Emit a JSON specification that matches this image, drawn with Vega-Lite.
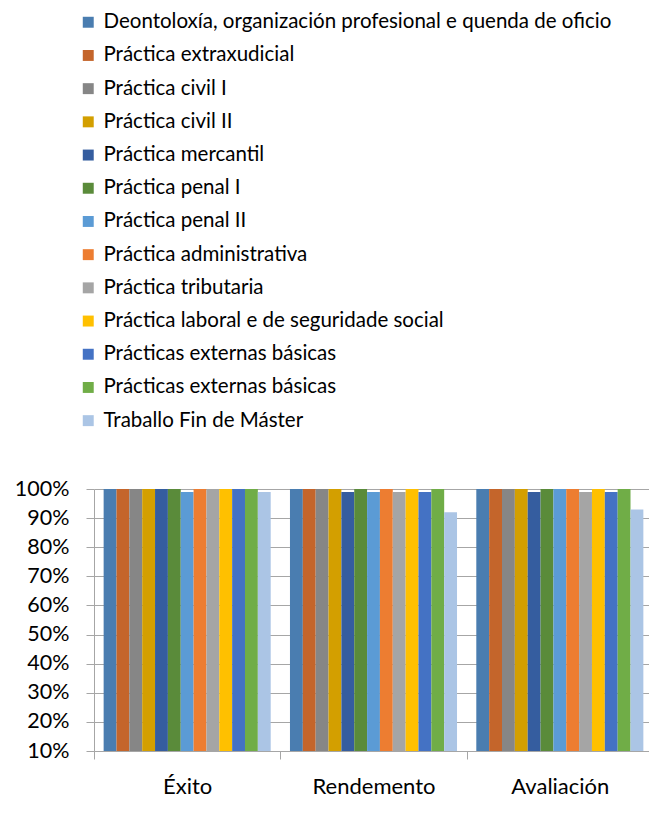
{
  "$schema": "https://vega.github.io/schema/vega-lite/v6.json",
  "width": 559,
  "height": 262,
  "autosize": "none",
  "padding": {"left": 94, "top": 489, "right": 0, "bottom": 69},
  "config": {"font": "Lato", "view": {"stroke": null}},
  "data": {"values": [
    {"indicador": "Éxito", "serie": "Deontoloxía, organización profesional e quenda de oficio", "valor": 1.0},
    {"indicador": "Éxito", "serie": "Práctica extraxudicial", "valor": 1.0},
    {"indicador": "Éxito", "serie": "Práctica civil I", "valor": 1.0},
    {"indicador": "Éxito", "serie": "Práctica civil II", "valor": 1.0},
    {"indicador": "Éxito", "serie": "Práctica mercantil", "valor": 1.0},
    {"indicador": "Éxito", "serie": "Práctica penal I", "valor": 1.0},
    {"indicador": "Éxito", "serie": "Práctica penal II", "valor": 0.99},
    {"indicador": "Éxito", "serie": "Práctica administrativa", "valor": 1.0},
    {"indicador": "Éxito", "serie": "Práctica tributaria", "valor": 1.0},
    {"indicador": "Éxito", "serie": "Práctica laboral e de seguridade social", "valor": 1.0},
    {"indicador": "Éxito", "serie": "Prácticas externas básicas", "valor": 1.0},
    {"indicador": "Éxito", "serie": "Prácticas externas básicas ", "valor": 1.0},
    {"indicador": "Éxito", "serie": "Traballo Fin de Máster", "valor": 0.99},
    {"indicador": "Rendemento", "serie": "Deontoloxía, organización profesional e quenda de oficio", "valor": 1.0},
    {"indicador": "Rendemento", "serie": "Práctica extraxudicial", "valor": 1.0},
    {"indicador": "Rendemento", "serie": "Práctica civil I", "valor": 1.0},
    {"indicador": "Rendemento", "serie": "Práctica civil II", "valor": 1.0},
    {"indicador": "Rendemento", "serie": "Práctica mercantil", "valor": 0.99},
    {"indicador": "Rendemento", "serie": "Práctica penal I", "valor": 1.0},
    {"indicador": "Rendemento", "serie": "Práctica penal II", "valor": 0.99},
    {"indicador": "Rendemento", "serie": "Práctica administrativa", "valor": 1.0},
    {"indicador": "Rendemento", "serie": "Práctica tributaria", "valor": 0.99},
    {"indicador": "Rendemento", "serie": "Práctica laboral e de seguridade social", "valor": 1.0},
    {"indicador": "Rendemento", "serie": "Prácticas externas básicas", "valor": 0.99},
    {"indicador": "Rendemento", "serie": "Prácticas externas básicas ", "valor": 1.0},
    {"indicador": "Rendemento", "serie": "Traballo Fin de Máster", "valor": 0.92},
    {"indicador": "Avaliación", "serie": "Deontoloxía, organización profesional e quenda de oficio", "valor": 1.0},
    {"indicador": "Avaliación", "serie": "Práctica extraxudicial", "valor": 1.0},
    {"indicador": "Avaliación", "serie": "Práctica civil I", "valor": 1.0},
    {"indicador": "Avaliación", "serie": "Práctica civil II", "valor": 1.0},
    {"indicador": "Avaliación", "serie": "Práctica mercantil", "valor": 0.99},
    {"indicador": "Avaliación", "serie": "Práctica penal I", "valor": 1.0},
    {"indicador": "Avaliación", "serie": "Práctica penal II", "valor": 1.0},
    {"indicador": "Avaliación", "serie": "Práctica administrativa", "valor": 1.0},
    {"indicador": "Avaliación", "serie": "Práctica tributaria", "valor": 0.99},
    {"indicador": "Avaliación", "serie": "Práctica laboral e de seguridade social", "valor": 1.0},
    {"indicador": "Avaliación", "serie": "Prácticas externas básicas", "valor": 0.99},
    {"indicador": "Avaliación", "serie": "Prácticas externas básicas ", "valor": 1.0},
    {"indicador": "Avaliación", "serie": "Traballo Fin de Máster", "valor": 0.93}
  ]},
  "mark": {"type": "bar"},
  "encoding": {
    "x": {
      "field": "indicador", "type": "nominal",
      "sort": ["Éxito", "Rendemento", "Avaliación"],
      "scale": {"paddingInner": 0, "paddingOuter": 0},
      "axis": {
        "title": null, "labelAngle": 0, "labelFontSize": 22, "labelColor": "#000000",
        "labelPadding": 17, "tickBand": "extent", "tickSize": 8,
        "domainColor": "#a6a6a6", "tickColor": "#a6a6a6", "grid": false
      }
    },
    "xOffset": {
      "field": "serie", "type": "nominal",
      "sort": [
        "Deontoloxía, organización profesional e quenda de oficio",
        "Práctica extraxudicial", "Práctica civil I", "Práctica civil II",
        "Práctica mercantil", "Práctica penal I", "Práctica penal II",
        "Práctica administrativa", "Práctica tributaria",
        "Práctica laboral e de seguridade social",
        "Prácticas externas básicas", "Prácticas externas básicas ",
        "Traballo Fin de Máster"
      ],
      "scale": {"paddingInner": 0, "paddingOuter": 0.75}
    },
    "y": {
      "field": "valor", "type": "quantitative", "stack": null,
      "scale": {"domain": [0.1, 1.0], "nice": false},
      "axis": {
        "title": null, "format": ".0%", "values": [0.1, 0.2, 0.3, 0.4, 0.5, 0.6, 0.7, 0.8, 0.9, 1.0],
        "labelFontSize": 21.5, "labelColor": "#000000", "labelPadding": 17, "tickSize": 8,
        "domainColor": "#a6a6a6", "tickColor": "#a6a6a6", "gridColor": "#a6a6a6", "grid": true
      }
    },
    "y2": {"datum": 0.1},
    "color": {
      "field": "serie", "type": "nominal",
      "scale": {
        "domain": [
          "Deontoloxía, organización profesional e quenda de oficio",
          "Práctica extraxudicial", "Práctica civil I", "Práctica civil II",
          "Práctica mercantil", "Práctica penal I", "Práctica penal II",
          "Práctica administrativa", "Práctica tributaria",
          "Práctica laboral e de seguridade social",
          "Prácticas externas básicas", "Prácticas externas básicas ",
          "Traballo Fin de Máster"
        ],
        "range": ["#4a7db0", "#c4652b", "#868686", "#d39f00", "#355d9f", "#5a8b3a", "#5b9bd5", "#ed7d31", "#a5a5a5", "#ffc000", "#4472c4", "#70ad47", "#abc5e5"]
      },
      "legend": {
        "title": null, "orient": "none", "legendX": -16, "legendY": -477,
        "direction": "vertical", "symbolType": "square", "symbolSize": 120,
        "symbolStrokeWidth": 0, "labelFontSize": 20.5, "labelColor": "#000000",
        "labelOffset": 5, "rowPadding": 12.2, "labelLimit": 600, "padding": 0
      }
    }
  }
}
